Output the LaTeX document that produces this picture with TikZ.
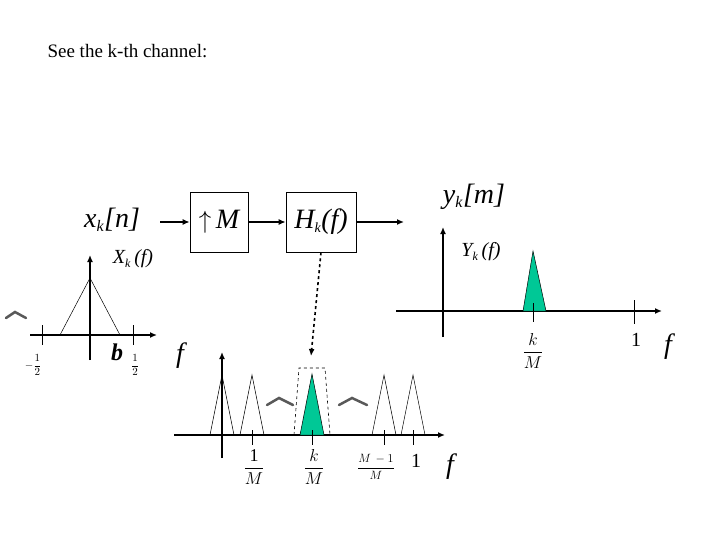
\documentclass[tikz,border=0pt]{standalone}
\usepackage{fontspec}
\setmainfont{Liberation Serif}
\usetikzlibrary{arrows.meta}
\definecolor{grn}{RGB}{0,200,150}
\newcommand{\fr}[2]{$\displaystyle\frac{#1}{#2}$}
\begin{document}
\begin{tikzpicture}[x=1pt,y=-1pt,
  ax/.style={line width=1.8pt,-{Latex[length=7pt,width=6pt]}},
  tk/.style={line width=0.9pt},
  tri/.style={line width=0.5pt},
  blk/.style={draw,line width=0.6pt,minimum width=58pt,minimum height=60pt,inner sep=0pt,font=\fontsize{28}{30}\selectfont\itshape},
  lbl/.style={font=\fontsize{28}{30}\selectfont\itshape,inner sep=1pt},
  sm/.style={font=\fontsize{20}{22}\selectfont\itshape,inner sep=1pt},
  frs/.style={font=\fontsize{18}{20}\selectfont\itshape,inner sep=0pt},
  hat/.style={line width=2.5pt,line cap=round,gray!70!black},
  conn/.style={line width=1.4pt,-{Latex[length=7pt,width=6pt]}}]
\useasboundingbox (0,0) rectangle (720,540);
\node[anchor=base west,font=\fontsize{19}{21}\selectfont] (title) at (44,58) {See the k-th channel:};
% blocks
\node[blk] (up) at (219,222) {$\uparrow$\,M};
\node[blk,minimum width=70pt] (H) at (321,222) {H\textsubscript{\fontsize{14}{14}\selectfont k}(f)};
\node[lbl] (x) at (112,220) {x\textsubscript{\fontsize{16}{16}\selectfont k}[n]};
\node[lbl] (y) at (474,197) {y\textsubscript{\fontsize{16}{16}\selectfont k}[m]};
\coordinate (xe) at (160,222);
\coordinate (ye) at (404,222);
\draw[conn] (xe) -- (up.west);
\draw[conn] (up.east) -- (H.west);
\draw[conn] (H.east) -- (ye);
% left plot
\draw[ax] (30,335) -- (157,335);
\draw[ax] (90,360) -- (90,255);
\draw[tri] (60,335) -- (90,278) -- (120,335);
\draw[tk] (42,325) -- (42,345) (133,325) -- (133,345);
\node[sm] (Xk) at (133,259) {X\textsubscript{\fontsize{12}{12}\selectfont k}\,(f)};
\node[font=\fontsize{11}{12}\selectfont,inner sep=0pt] (mh) at (33,365) {$\displaystyle-\frac{1}{2}$};
\node[font=\fontsize{11}{12}\selectfont,inner sep=0pt] (ph) at (135,365) {\fr{1}{2}};
\node[lbl,font=\fontsize{24}{26}\selectfont\bfseries\itshape] (b) at (117,352) {b};
\draw[hat] (6,318) -- (15,312) -- (26,318);
\node[lbl] (f1) at (180,356) {f};
% dashed connector
\coordinate (dend) at (311,356);
\draw[line width=1.6pt,dashed,-{Latex[length=7pt,width=6pt]}] (H.south) -- (dend);
% bottom plot
\draw[ax] (174,435) -- (445,435);
\draw[ax] (222,458) -- (222,352);
\foreach \c in {222,252,384,413} \draw[tri] (\c-12,435) -- (\c,375) -- (\c+12,435);
\draw[tri,fill=grn] (300,435) -- (312,374) -- (324,435) -- cycle;
\draw[dashed,line width=0.6pt] (294,435) -- (299,368) -- (325,368) -- (330,435);
\draw[tk] (252,430) -- (252,445) (312,430) -- (312,445) (384,430) -- (384,445) (413,430) -- (413,445);
\draw[hat] (267,405) -- (279,398) -- (293,405);
\draw[hat] (339,405) -- (352,398) -- (367,405);
\node[frs] (oneM) at (254,467) {\fr{\mathrm{1}}{M}};
\node[frs] (kM) at (314,467) {\fr{k}{M}};
\node[font=\fontsize{12}{14}\selectfont,inner sep=0pt] (mM) at (376,467) {\fr{M\,-1}{M}};
\node[frs,font=\fontsize{20}{22}\selectfont] (one) at (416,461) {1};
\node[lbl] (f2) at (450,467) {f};
% right plot
\draw[ax] (396,311) -- (662,311);
\draw[ax] (443,337) -- (443,227);
\draw[tri,fill=grn] (523,311) -- (533,251) -- (546,311) -- cycle;
\draw[tk] (533,303) -- (533,322) (634,300) -- (634,324);
\node[sm] (Yk) at (481,252) {Y\textsubscript{\fontsize{12}{12}\selectfont k}\,(f)};
\node[frs] (kM2) at (533,351) {\fr{k}{M}};
\node[frs,font=\fontsize{20}{22}\selectfont] (one2) at (636,340) {1};
\node[lbl] (f3) at (668,347) {f};
\end{tikzpicture}
\end{document}
